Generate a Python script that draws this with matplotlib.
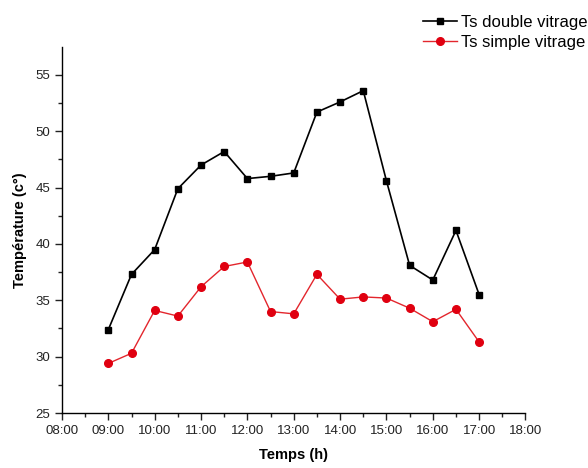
import numpy as np
import matplotlib
matplotlib.use("Agg")
import matplotlib.pyplot as plt
import matplotlib.dates as mdates
from datetime import datetime

plt.rcParams['font.family'] = ['Liberation Sans', 'DejaVu Sans']

# heures de mesure
heures = ["09:00", "09:30", "10:00", "10:30", "11:00", "11:30", "12:00", "12:30",
          "13:00", "13:30", "14:00", "14:30", "15:00", "15:30", "16:00", "16:30", "17:00"]
ts_double = [32.4, 37.3, 39.5, 44.9, 47.0, 48.2, 45.8, 46.0, 46.3,
             51.7, 52.6, 53.6, 45.6, 38.1, 36.8, 41.2, 35.5]
ts_simple = [29.4, 30.3, 34.1, 33.6, 36.2, 38.0, 38.4, 34.0, 33.8,
             37.3, 35.1, 35.3, 35.2, 34.3, 33.1, 34.2, 31.3]

day = "2020-01-01 "
t = [datetime.strptime(day + h, "%Y-%m-%d %H:%M") for h in heures]

fig = plt.figure(figsize=(5.88, 4.68), dpi=100)
ax = fig.add_axes([0.1054, 0.1175, 0.7883, 0.7827])

l1, = ax.plot(t, ts_double, color='black', lw=1.2, marker='s', ms=5,
              label='Ts double vitrage')
l2, = ax.plot(t, ts_simple, color='#e3262d', lw=1.0, marker='o', ms=5.5,
              mfc='#e00010', mec='#e00010', label='Ts simple vitrage')

ax.set_xlim(datetime.strptime(day + "08:00", "%Y-%m-%d %H:%M"),
            datetime.strptime(day + "18:00", "%Y-%m-%d %H:%M"))
ax.set_ylim(25, 57.5)
ax.xaxis.set_major_locator(mdates.HourLocator())
ax.xaxis.set_minor_locator(mdates.MinuteLocator(byminute=[30]))
ax.xaxis.set_major_formatter(mdates.DateFormatter("%H:%M"))
ax.set_yticks([25, 30, 35, 40, 45, 50, 55])
ax.set_yticks(np.arange(27.5, 57.5, 5), minor=True)

for s in ['top', 'right']:
    ax.spines[s].set_visible(False)
for s in ['left', 'bottom']:
    ax.spines[s].set_linewidth(1.0)
ax.tick_params(which='major', direction='out', length=5, width=1, labelsize=9.5, colors='#222222')
ax.tick_params(which='minor', direction='out', length=3, width=1, colors='#222222')

ax.set_xlabel('Temps (h)', fontsize=10.5, fontweight='bold', labelpad=8)
ax.set_ylabel('Température (c°)', fontsize=10.5, fontweight='bold', labelpad=6)

fig.legend(handles=[l1, l2], loc='upper left', bbox_to_anchor=(0.703, 0.99),
           frameon=False, fontsize=12, handlelength=2.0, handletextpad=0.25,
           labelspacing=0.3, borderaxespad=0.2)

fig.savefig("out.png", dpi=100)
